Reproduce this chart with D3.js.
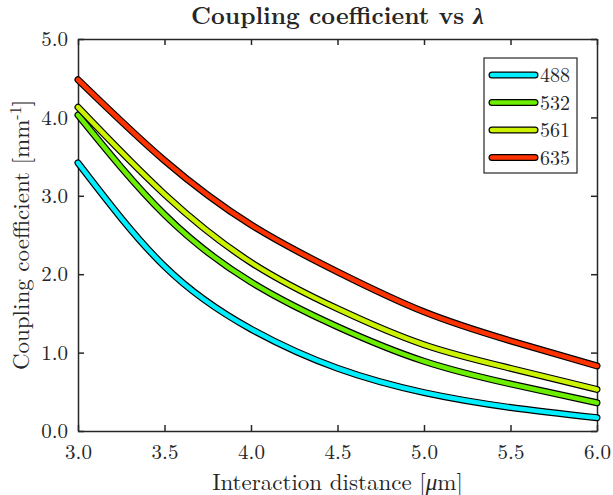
<!DOCTYPE html>
<html>
<head>
<meta charset="utf-8">
<script src="https://cdn.jsdelivr.net/npm/d3@7"></script>
<style>
  body { margin: 0; background: #fff; }
  text { font-family: "Latin Modern Roman", "CMU Serif", "Liberation Serif", serif; fill: #262626; }
</style>
</head>
<body>
<svg id="chart" width="613" height="495"></svg>
<script>
"use strict";

const distance = [3.0, 3.5, 4.0, 4.5, 5.0, 5.5, 6.0];
const wavelengths = ["488", "532", "561", "635"];
const lineColors = ["#00eeff", "#6cee00", "#ccf200", "#ff3300"];
const k488 = [3.42, 2.10, 1.30, 0.80, 0.49, 0.30, 0.17];
const k532 = [4.03, 2.76, 1.90, 1.33, 0.89, 0.60, 0.36];
const k561 = [4.13, 3.02, 2.15, 1.56, 1.10, 0.80, 0.53];
const k635 = [4.48, 3.45, 2.63, 2.03, 1.52, 1.15, 0.83];
const xTicks = [3.0, 3.5, 4.0, 4.5, 5.0, 5.5, 6.0];
const yTicks = [0, 1, 2, 3, 4, 5];

const width = 613;
const height = 495;
const margin = { top: 39, bottom: 64, left: 78, right: 16 };
const innerWidth = width - margin.left - margin.right;
const innerHeight = height - margin.top - margin.bottom;

const series = [k488, k532, k561, k635].map((vals, i) => ({
    name: wavelengths[i],
    color: lineColors[i],
    points: vals.map((v, j) => ({ x: distance[j], y: v }))
}));

const svg = d3.select("#chart");
const plot = svg.append("g")
    .attr("transform", `translate(${margin.left},${margin.top})`);

const xScale = d3.scaleLinear().domain([3, 6]).range([0, innerWidth]);
const yScale = d3.scaleLinear().domain([0, 5]).range([innerHeight, 0]);

// axes, ticks pointing inward
function styleAxis(g) {
    g.selectAll("path.domain").attr("stroke", "#262626").attr("stroke-width", 1.5);
    g.selectAll(".tick line").attr("stroke", "#262626").attr("stroke-width", 1.5);
    g.selectAll(".tick text").style("font-size", "21px").attr("fill", "#262626");
}

plot.append("g")
    .attr("transform", `translate(0,${innerHeight})`)
    .call(d3.axisBottom(xScale).tickValues(xTicks).tickSizeInner(-6).tickSizeOuter(0)
        .tickPadding(13).tickFormat(d3.format(".1f")))
    .call(styleAxis);
plot.append("g")
    .call(d3.axisLeft(yScale).tickValues(yTicks).tickSizeInner(-6).tickSizeOuter(0)
        .tickPadding(10).tickFormat(d3.format(".1f")))
    .call(styleAxis);
plot.append("g")
    .call(d3.axisTop(xScale).tickValues(xTicks).tickSizeInner(-6).tickSizeOuter(0).tickFormat(""))
    .call(styleAxis);
plot.append("g")
    .attr("transform", `translate(${innerWidth},0)`)
    .call(d3.axisRight(yScale).tickValues(yTicks).tickSizeInner(-6).tickSizeOuter(0).tickFormat(""))
    .call(styleAxis);

// curves: black outline under a coloured stroke
const line = d3.line()
    .x(d => xScale(d.x))
    .y(d => yScale(d.y))
    .curve(d3.curveNatural);

series.forEach(s => {
    plot.append("path")
        .attr("d", line(s.points))
        .attr("fill", "none")
        .attr("stroke", "#000")
        .attr("stroke-width", 7)
        .attr("stroke-linecap", "round");
    plot.append("path")
        .attr("d", line(s.points))
        .attr("fill", "none")
        .attr("stroke", s.color)
        .attr("stroke-width", 4.6)
        .attr("stroke-linecap", "round");
});

// legend
const legend = svg.append("g").attr("transform", "translate(484,58)");
legend.append("rect")
    .attr("width", 93).attr("height", 115)
    .attr("fill", "#fff").attr("stroke", "#262626").attr("stroke-width", 1.2);
series.forEach((s, i) => {
    const ly = 17 + i * 27.5;
    legend.append("line")
        .attr("x1", 8).attr("x2", 51).attr("y1", ly).attr("y2", ly)
        .attr("stroke", "#000").attr("stroke-width", 7).attr("stroke-linecap", "round");
    legend.append("line")
        .attr("x1", 8).attr("x2", 51).attr("y1", ly).attr("y2", ly)
        .attr("stroke", s.color).attr("stroke-width", 4.6).attr("stroke-linecap", "round");
    legend.append("text")
        .attr("x", 56).attr("y", ly + 7)
        .style("font-size", "20px")
        .text(s.name);
});

// title and labels
const title = svg.append("text")
    .attr("x", margin.left + innerWidth / 2).attr("y", 24)
    .attr("text-anchor", "middle")
    .style("font-size", "24px").style("font-weight", "bold")
    .attr("fill", "#000");
title.append("tspan").text("Coupling coefficient vs ");
title.append("tspan").style("font-style", "italic").text("λ");

const xLabel = svg.append("text")
    .attr("x", margin.left + innerWidth / 2).attr("y", 490)
    .attr("text-anchor", "middle")
    .style("font-size", "23px");
xLabel.append("tspan").text("Interaction distance  [");
xLabel.append("tspan").style("font-style", "italic").text("μ");
xLabel.append("tspan").text("m]");

const yLabel = svg.append("text")
    .attr("transform", `translate(29,${margin.top + innerHeight / 2}) rotate(-90)`)
    .attr("text-anchor", "middle")
    .style("font-size", "23px");
yLabel.append("tspan").text("Coupling coefficient [mm");
yLabel.append("tspan").attr("dy", -8).style("font-size", "16px").text("-1");
yLabel.append("tspan").attr("dy", 8).text("]");
</script>
</body>
</html>
